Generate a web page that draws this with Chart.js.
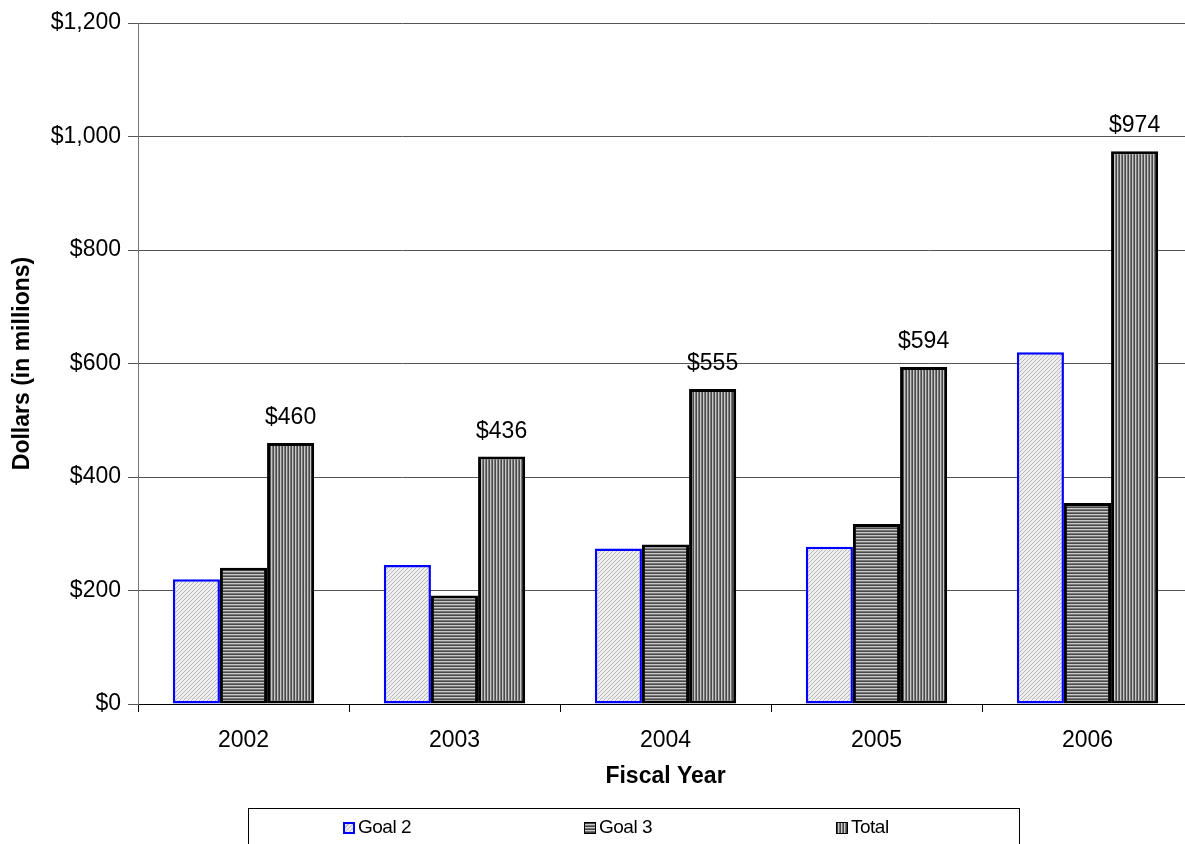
<!DOCTYPE html>
<html>
<head>
<meta charset="utf-8">
<script src="https://cdn.jsdelivr.net/npm/chart.js@4.4.1/dist/chart.umd.min.js"></script>
<style>
  html, body { margin: 0; padding: 0; background: #fff; overflow: hidden; }
  .wrap { position: relative; width: 1195px; height: 844px; }
  .legend {
    position: absolute; left: 248px; top: 808px; width: 770px; height: 50px;
    border: 1px solid #000; font-family: "Liberation Sans", Arial, sans-serif; font-size: 19px;
  }
  .legend span { position: absolute; top: 8px; line-height: 20px; letter-spacing: -0.5px; }
  .legend i { display: inline-block; width: 12px; height: 12px; margin-right: 3px; vertical-align: -1px; box-sizing: border-box; border: 1px solid #000; }
  .sw2 { border: 2px solid #00f !important; background: repeating-linear-gradient(135deg, #ededed 0 2px, #bdbdbd 2px 3px); }
  .sw3 { background: repeating-linear-gradient(180deg, #444 0 1px, #ccc 1px 2px, #777 2px 3px); }
  .swt { background: repeating-linear-gradient(90deg, #444 0 1px, #ccc 1px 2px, #777 2px 3px); }
</style>
</head>
<body>
<div class="wrap">
  <canvas id="chart" width="1195" height="844"></canvas>
  <div class="legend">
    <span style="left:94px"><i class="sw2"></i>Goal 2</span>
    <span style="left:335px"><i class="sw3"></i>Goal 3</span>
    <span style="left:587px"><i class="swt"></i>Total</span>
  </div>
</div>
<script>
// chart values (millions of dollars)
const years = ['2002', '2003', '2004', '2005', '2006'];
const goal2 = [220, 245, 274, 277, 620];
const goal3 = [240, 191, 281, 317, 354];
const total = [460, 436, 555, 594, 974];

const font = "'Liberation Sans', Arial, sans-serif";

// little tiles used as bar fills
function makePattern(w, h, draw) {
  const c = document.createElement('canvas');
  c.width = w; c.height = h;
  const g = c.getContext('2d');
  draw(g);
  return g.createPattern(c, 'repeat');
}

const hatchPattern = makePattern(4, 4, g => {
  g.fillStyle = '#eeeeee';
  g.fillRect(0, 0, 4, 4);
  g.fillStyle = '#b8b8b8';
  for (let i = 0; i < 4; i++) g.fillRect(i, 3 - i, 1, 1);
});

const horizPattern = makePattern(1, 3, g => {
  g.fillStyle = '#4a4a4a'; g.fillRect(0, 0, 1, 1);
  g.fillStyle = '#c8c8c8'; g.fillRect(0, 1, 1, 1);
  g.fillStyle = '#7a7a7a'; g.fillRect(0, 2, 1, 1);
});

const vertPattern = makePattern(3, 1, g => {
  g.fillStyle = '#4a4a4a'; g.fillRect(0, 0, 1, 1);
  g.fillStyle = '#c8c8c8'; g.fillRect(1, 0, 1, 1);
  g.fillStyle = '#7a7a7a'; g.fillRect(2, 0, 1, 1);
});

// "$460" etc. above the Total bars
const totalLabels = {
  id: 'totalLabels',
  afterDatasetsDraw(chart) {
    const ctx = chart.ctx;
    const meta = chart.getDatasetMeta(2);
    ctx.save();
    ctx.font = '23px ' + font;
    ctx.fillStyle = '#000';
    ctx.textAlign = 'center';
    ctx.textBaseline = 'alphabetic';
    meta.data.forEach((bar, i) => {
      ctx.fillText('$' + total[i], bar.x, bar.y - 19);
    });
    ctx.restore();
  }
};

new Chart(document.getElementById('chart'), {
  type: 'bar',
  data: {
    labels: years,
    datasets: [
      { label: 'Goal 2', data: goal2, backgroundColor: hatchPattern, borderColor: '#0000ff', borderWidth: 2.5 },
      { label: 'Goal 3', data: goal3, backgroundColor: horizPattern, borderColor: '#000', borderWidth: 3 },
      { label: 'Total', data: total, backgroundColor: vertPattern, borderColor: '#000', borderWidth: 3 }
    ]
  },
  options: {
    responsive: false,
    animation: false,
    layout: { padding: { top: 23, bottom: 50, left: 0, right: 2 } },
    datasets: { bar: { categoryPercentage: 0.67, barPercentage: 1, borderSkipped: false } },
    plugins: {
      legend: { display: false },
      tooltip: { enabled: false }
    },
    scales: {
      x: {
        grid: { offset: true, drawOnChartArea: false, drawTicks: true, tickLength: 8, color: '#000' },
        border: { color: '#000', width: 1 },
        ticks: { color: '#000', font: { family: font, size: 23 }, padding: 15 },
        title: { display: true, text: 'Fiscal Year', color: '#000', font: { family: font, size: 23, weight: 'bold' }, padding: { top: 0, bottom: 4 } },
        afterFit: s => { s.height = 90; }
      },
      y: {
        min: 0, max: 1200,
        grid: { color: '#555', lineWidth: 1, tickLength: 10 },
        border: { color: '#777', width: 1 },
        ticks: {
          stepSize: 200, color: '#000', padding: 7,
          font: { family: font, size: 23 },
          callback: v => '$' + v.toLocaleString('en-US')
        },
        title: { display: true, text: 'Dollars (in millions)', color: '#000', font: { family: font, size: 23, weight: 'bold' }, padding: { top: 9, bottom: 0 } },
        afterFit: s => { s.width = 138; }
      }
    }
  },
  plugins: [totalLabels]
});
</script>
</body>
</html>
